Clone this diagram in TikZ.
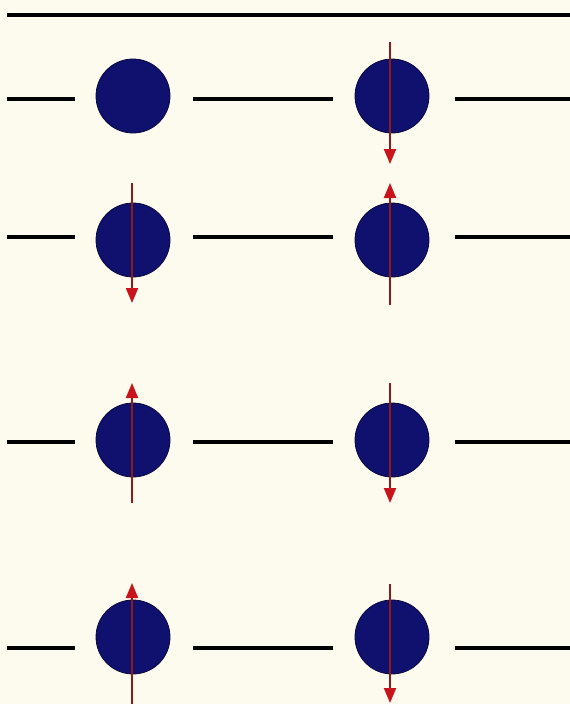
\documentclass[tikz,border=0pt]{standalone}
\usetikzlibrary{arrows.meta}
\definecolor{paper}{HTML}{FDFBEE}
\definecolor{ball}{HTML}{10106E}
\definecolor{ballrim}{HTML}{0A0A3A}
\definecolor{spin}{HTML}{8E1A1A}
\definecolor{spinhead}{HTML}{C8141A}
\tikzset{
  atom/.style={circle, fill=ball, draw=ballrim, line width=0.8pt, minimum size=74pt, inner sep=0pt},
  bond/.style={line width=4pt, black},
  spinarrow/.style={line width=2pt, draw=spin, -{Triangle[width=12pt,length=15pt,color=spinhead]}}
}
\begin{document}
\begin{tikzpicture}[x=1pt,y=-1pt]
\fill[paper] (0,0) rectangle (570,704);
\useasboundingbox (0,0) rectangle (570,704);
% top line
\coordinate (tl) at (7,15);
\coordinate (tr) at (570,15);
\draw[line width=4.5pt] (tl) -- (tr);
% rows: circle y, line y
\foreach \r/\cy/\ly in {1/96/99, 2/240/237, 3/440/442, 4/637/648}{
  \node[atom] (a\r) at (133,\cy) {};
  \node[atom] (b\r) at (392,\cy) {};
  \coordinate (s\r a) at (7,\ly);
  \coordinate (s\r b) at (75,\ly);
  \coordinate (s\r c) at (193,\ly);
  \coordinate (s\r d) at (333,\ly);
  \coordinate (s\r e) at (455,\ly);
  \coordinate (s\r f) at (570,\ly);
  \draw[bond] (s\r a) -- (s\r b);
  \draw[bond] (s\r c) -- (s\r d);
  \draw[bond] (s\r e) -- (s\r f);
}
% spin arrows
\coordinate (u1) at (390,42);  \coordinate (d1) at (390,164);
\draw[spinarrow] (u1) -- (d1);
\coordinate (u2a) at (132,183); \coordinate (d2a) at (132,303);
\draw[spinarrow] (u2a) -- (d2a);
\coordinate (u2b) at (390,183); \coordinate (d2b) at (390,305);
\draw[spinarrow] (d2b) -- (u2b);
\coordinate (u3a) at (132,383); \coordinate (d3a) at (132,503);
\draw[spinarrow] (d3a) -- (u3a);
\coordinate (u3b) at (390,383); \coordinate (d3b) at (390,503);
\draw[spinarrow] (u3b) -- (d3b);
\coordinate (u4a) at (132,583); \coordinate (d4a) at (132,704);
\draw[spinarrow] (d4a) -- (u4a);
\coordinate (u4b) at (390,584); \coordinate (d4b) at (390,703);
\draw[spinarrow] (u4b) -- (d4b);
\end{tikzpicture}
\end{document}
